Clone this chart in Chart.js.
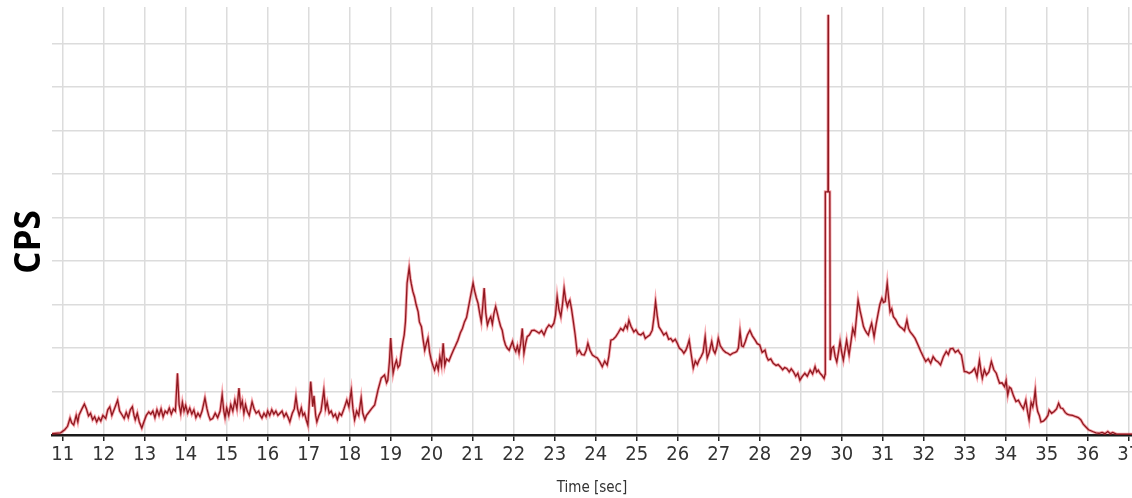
<!DOCTYPE html>
<html>
<head>
<meta charset="utf-8">
<script src="https://cdn.jsdelivr.net/npm/chart.js@4.4.1/dist/chart.umd.min.js"></script>
<style>
  html, body { margin: 0; padding: 0; background: #ffffff; }
  #wrap { position: relative; width: 1132px; height: 498px; }
</style>
</head>
<body>
<div id="wrap"><canvas id="cps" width="1132" height="498"></canvas></div>
<script>
// Count rate trace: time in seconds, counts per second (grid units)
const times = [
  10.74, 10.95, 11.05, 11.12, 11.18, 11.22, 11.27, 11.33, 11.37, 11.40, 11.47, 11.53, 11.58, 11.63, 11.68, 11.73, 11.78, 11.83, 11.88, 11.93, 11.98,
  12.05, 12.10, 12.15, 12.20, 12.27, 12.34, 12.39, 12.45, 12.50, 12.55, 12.60, 12.65, 12.70, 12.74, 12.77, 12.82, 12.87, 12.93, 12.98,
  13.04, 13.10, 13.15, 13.20, 13.25, 13.30, 13.35, 13.40, 13.45, 13.50, 13.55, 13.60, 13.65, 13.70, 13.75, 13.80, 13.84, 13.88, 13.92, 13.96,
  14.00, 14.05, 14.10, 14.15, 14.20, 14.25, 14.30, 14.35, 14.40, 14.47, 14.52, 14.56, 14.60, 14.66, 14.72, 14.78, 14.84, 14.89, 14.93, 14.96,
  15.00, 15.05, 15.10, 15.15, 15.20, 15.25, 15.30, 15.34, 15.38, 15.42, 15.46, 15.50, 15.55, 15.62, 15.67, 15.72, 15.78, 15.82, 15.86, 15.91, 15.96,
  16.00, 16.05, 16.10, 16.15, 16.20, 16.25, 16.30, 16.35, 16.40, 16.45, 16.50, 16.54, 16.60, 16.65, 16.69, 16.73, 16.77, 16.82, 16.86, 16.90, 16.94, 16.98,
  17.05, 17.10, 17.13, 17.17, 17.20, 17.25, 17.30, 17.37, 17.41, 17.45, 17.50, 17.55, 17.60, 17.65, 17.70, 17.75, 17.80, 17.86, 17.93, 17.98,
  18.04, 18.08, 18.12, 18.17, 18.22, 18.28, 18.32, 18.37, 18.41, 18.45, 18.53, 18.61, 18.69, 18.77, 18.85, 18.90, 18.93, 18.97,
  19.00, 19.03, 19.06, 19.10, 19.14, 19.18, 19.22, 19.26, 19.30, 19.33, 19.36, 19.40, 19.45, 19.48, 19.50, 19.54, 19.58, 19.62, 19.67, 19.70,
  19.75, 19.79, 19.83, 19.87, 19.91, 19.95, 19.99,
  20.03, 20.07, 20.12, 20.16, 20.20, 20.24, 20.28, 20.32, 20.36, 20.42, 20.48, 20.53, 20.58, 20.64, 20.70, 20.75, 20.80, 20.85, 20.89, 20.93, 20.97,
  21.01, 21.05, 21.09, 21.13, 21.17, 21.21, 21.24, 21.28, 21.32, 21.36, 21.40, 21.44, 21.48, 21.52, 21.56, 21.60, 21.64, 21.68, 21.72, 21.76,
  21.80, 21.84, 21.89, 21.93, 21.97,
  22.01, 22.05, 22.09, 22.13, 22.17, 22.21, 22.25, 22.29, 22.33, 22.38, 22.44, 22.50, 22.56, 22.62, 22.68, 22.74, 22.80, 22.86, 22.92, 22.98,
  23.02, 23.06, 23.10, 23.15, 23.19, 23.23, 23.27, 23.31, 23.34, 23.37, 23.41, 23.45, 23.50, 23.55, 23.60, 23.66, 23.72, 23.77, 23.81, 23.86, 23.92, 23.98,
  24.04, 24.10, 24.16, 24.22, 24.28, 24.32, 24.37, 24.43, 24.49, 24.55, 24.61, 24.67, 24.73, 24.77, 24.81, 24.86, 24.93, 24.98,
  25.04, 25.10, 25.16, 25.21, 25.26, 25.32, 25.38, 25.42, 25.46, 25.50, 25.54, 25.60, 25.66, 25.72, 25.78, 25.83, 25.88, 25.94, 25.99,
  26.04, 26.10, 26.15, 26.20, 26.24, 26.28, 26.33, 26.38, 26.43, 26.48, 26.52, 26.57, 26.62, 26.67, 26.72, 26.77, 26.83, 26.87, 26.91, 26.95, 26.99,
  27.04, 27.11, 27.17, 27.22, 27.28, 27.34, 27.40, 27.44, 27.48, 27.52, 27.56, 27.60, 27.65, 27.70, 27.76, 27.82, 27.89, 27.94,
  28.00, 28.06, 28.13, 28.17, 28.21, 28.27, 28.33, 28.40, 28.45, 28.50, 28.56, 28.61, 28.66, 28.72, 28.77, 28.82, 28.88, 28.93, 28.98,
  29.04, 29.10, 29.16, 29.23, 29.29, 29.35, 29.39, 29.43, 29.47, 29.51, 29.57, 29.595, 29.60, 29.665, 29.67, 29.675, 29.71, 29.72, 29.76, 29.80,
  29.84, 29.88, 29.92, 29.96,
  30.00, 30.04, 30.08, 30.12, 30.15, 30.18, 30.22, 30.27, 30.32, 30.36, 30.40, 30.45, 30.49, 30.53, 30.57, 30.61, 30.65, 30.69, 30.73, 30.79,
  30.84, 30.89, 30.93, 30.98,
  31.02, 31.06, 31.11, 31.15, 31.18, 31.22, 31.26, 31.32, 31.37, 31.42, 31.48, 31.53, 31.59, 31.63, 31.67, 31.73, 31.79, 31.87, 31.93, 31.99,
  32.05, 32.11, 32.17, 32.23, 32.29, 32.35, 32.41, 32.48, 32.55, 32.60, 32.65, 32.71, 32.77, 32.84, 32.88, 32.92, 32.99,
  33.05, 33.11, 33.17, 33.24, 33.30, 33.36, 33.40, 33.43, 33.48, 33.53, 33.59, 33.65, 33.71, 33.77, 33.81, 33.85, 33.91, 33.97,
  34.01, 34.05, 34.09, 34.13, 34.19, 34.25, 34.31, 34.37, 34.43, 34.49, 34.53, 34.57, 34.62, 34.66, 34.69, 34.72, 34.75, 34.78, 34.82, 34.86,
  34.92, 34.98,
  35.03, 35.06, 35.12, 35.18, 35.24, 35.29, 35.34, 35.39, 35.45, 35.50, 35.55, 35.63, 35.71, 35.77, 35.83, 35.89, 35.95,
  36.02, 36.12, 36.20, 36.28, 36.35, 36.42, 36.49, 36.55, 36.61, 36.70, 36.90, 37.08
];

const counts = [
  0.03, 0.05, 0.12, 0.20, 0.39, 0.28, 0.23, 0.45, 0.30, 0.46, 0.60, 0.71, 0.60, 0.44, 0.50, 0.35, 0.42, 0.30, 0.40, 0.32, 0.45,
  0.38, 0.58, 0.65, 0.45, 0.62, 0.80, 0.55, 0.46, 0.38, 0.52, 0.40, 0.58, 0.65, 0.45, 0.35, 0.50, 0.30, 0.16, 0.30,
  0.45, 0.53, 0.48, 0.55, 0.40, 0.58, 0.45, 0.60, 0.42, 0.55, 0.50, 0.62, 0.48, 0.60, 0.55, 1.42, 0.70, 0.50, 0.75, 0.55,
  0.68, 0.50, 0.62, 0.48, 0.58, 0.40, 0.50, 0.42, 0.55, 0.85, 0.60, 0.45, 0.35, 0.38, 0.50, 0.40, 0.55, 0.92, 0.55, 0.40,
  0.62, 0.45, 0.70, 0.55, 0.80, 0.60, 1.08, 0.65, 0.78, 0.50, 0.70, 0.55, 0.45, 0.76, 0.60, 0.50, 0.55, 0.45, 0.39, 0.50, 0.42,
  0.55, 0.45, 0.58, 0.48, 0.55, 0.45, 0.50, 0.55, 0.42, 0.50, 0.40, 0.30, 0.50, 0.60, 0.88, 0.60, 0.45, 0.62, 0.45, 0.50, 0.35, 0.23,
  1.23, 0.65, 0.90, 0.45, 0.30, 0.45, 0.55, 1.03, 0.60, 0.75, 0.50, 0.55, 0.42, 0.48, 0.35, 0.50, 0.45, 0.60, 0.80, 0.65,
  1.03, 0.60, 0.35, 0.55, 0.45, 0.85, 0.50, 0.35, 0.45, 0.50, 0.60, 0.69, 1.03, 1.31, 1.38, 1.20, 1.26, 1.70,
  2.23, 1.80, 1.42, 1.60, 1.72, 1.55, 1.61, 1.90, 2.15, 2.30, 2.60, 3.49, 3.84, 3.60, 3.49, 3.30, 3.18, 3.00, 2.83, 2.60,
  2.49, 2.20, 1.95, 2.10, 2.23, 1.90, 1.72,
  1.60, 1.49, 1.65, 1.50, 1.80, 1.60, 2.11, 1.60, 1.75, 1.70, 1.84, 1.95, 2.05, 2.18, 2.35, 2.45, 2.60, 2.70, 2.90, 3.10, 3.30,
  3.49, 3.30, 3.15, 3.03, 2.80, 2.60, 2.90, 3.38, 2.80, 2.53, 2.65, 2.72, 2.55, 2.80, 2.95, 2.80, 2.64, 2.50, 2.41, 2.20,
  2.07, 2.00, 1.95, 2.05, 2.15,
  2.00, 1.92, 2.05, 1.88, 2.10, 2.45, 1.88, 2.10, 2.26, 2.30, 2.40, 2.41, 2.38, 2.34, 2.40, 2.30, 2.45, 2.53, 2.48, 2.57,
  2.75, 3.18, 2.90, 2.72, 3.00, 3.37, 3.10, 2.95, 3.05, 3.10, 2.90, 2.64, 2.30, 1.88, 1.95, 1.85, 1.84, 1.95, 2.11, 1.95, 1.84, 1.80,
  1.77, 1.68, 1.57, 1.70, 1.61, 1.80, 2.18, 2.20, 2.26, 2.35, 2.45, 2.40, 2.53, 2.45, 2.64, 2.50, 2.37, 2.42,
  2.32, 2.30, 2.35, 2.22, 2.26, 2.30, 2.41, 2.70, 3.07, 2.75, 2.49, 2.40, 2.30, 2.35, 2.20, 2.22, 2.15, 2.20, 2.11,
  2.00, 1.95, 1.88, 1.95, 2.05, 2.18, 1.85, 1.54, 1.70, 1.62, 1.72, 1.80, 1.90, 2.26, 1.77, 1.90, 2.15, 1.95, 1.88, 2.00, 2.22,
  2.05, 1.95, 1.90, 1.88, 1.84, 1.88, 1.90, 1.92, 2.00, 2.38, 2.05, 2.03, 2.15, 2.30, 2.41, 2.28, 2.18, 2.10,
  2.07, 1.90, 1.95, 1.80, 1.72, 1.75, 1.65, 1.60, 1.62, 1.57, 1.50, 1.55, 1.53, 1.45, 1.52, 1.46, 1.35, 1.42, 1.26,
  1.35, 1.42, 1.35, 1.49, 1.40, 1.57, 1.45, 1.49, 1.42, 1.38, 1.30, 1.40, 5.59, 5.59, 9.66, 5.59, 5.59, 1.72, 2.00, 2.03,
  1.80, 1.68, 1.90, 2.15,
  1.90, 1.72, 1.95, 2.18, 2.00, 1.84, 2.10, 2.45, 2.30, 2.70, 3.10, 2.85, 2.68, 2.50, 2.41, 2.35, 2.30, 2.45, 2.57, 2.26,
  2.55, 2.80, 3.00, 3.14,
  3.05, 3.07, 3.49, 3.10, 2.83, 2.90, 2.72, 2.65, 2.55, 2.49, 2.45, 2.40, 2.64, 2.45, 2.37, 2.30, 2.22, 2.05, 1.92, 1.80,
  1.69, 1.75, 1.65, 1.80, 1.72, 1.68, 1.61, 1.80, 1.92, 1.85, 1.98, 1.99, 1.90, 1.95, 1.88, 1.84, 1.46,
  1.45, 1.42, 1.45, 1.53, 1.34, 1.72, 1.45, 1.30, 1.50, 1.38, 1.45, 1.69, 1.50, 1.42, 1.30, 1.19, 1.20, 1.11,
  1.25, 0.92, 1.10, 1.07, 0.90, 0.77, 0.80, 0.69, 0.60, 0.80, 0.55, 0.35, 0.75, 0.65, 0.80, 1.03, 0.70, 0.54, 0.45, 0.30,
  0.32, 0.38,
  0.45, 0.57, 0.50, 0.54, 0.60, 0.73, 0.62, 0.61, 0.52, 0.48, 0.46, 0.45, 0.42, 0.40, 0.35, 0.25, 0.19,
  0.12, 0.08, 0.05, 0.04, 0.06, 0.03, 0.08, 0.03, 0.06, 0.02, 0.02, 0.02
];

// Axis ticks
const timeTicks = [11, 12, 13, 14, 15, 16, 17, 18, 19, 20, 21, 22, 23, 24, 25, 26, 27, 28, 29, 30, 31, 32, 33, 34, 35, 36, 37];
const countTicks = [0, 1, 2, 3, 4, 5, 6, 7, 8, 9];
const timeRange = [10.74, 37.08];
const countRange = [0, 9.84];

const trace = times.map((t, i) => ({ x: t, y: counts[i] }));

// Rotated, bold "CPS" label beside the plot
const cpsLabel = {
  id: 'cpsLabel',
  afterDraw(chart) {
    const ctx = chart.ctx;
    ctx.save();
    ctx.translate(30, 242);
    ctx.rotate(-Math.PI / 2);
    ctx.fillStyle = '#000000';
    ctx.font = 'bold 35px "Open Sans", sans-serif';
    ctx.textAlign = 'center';
    ctx.textBaseline = 'middle';
    ctx.fillText('CPS', 0, 0);
    ctx.restore();
  }
};

const narrow = '"DejaVu Sans Condensed", "Liberation Sans", sans-serif';
const gridGrey = '#dcdcdc';

new Chart(document.getElementById('cps'), {
  type: 'line',
  data: {
    datasets: [
      {
        data: trace,
        borderColor: '#8f1820',
        borderWidth: 1.3,
        pointRadius: 0,
        tension: 0,
        fill: false,
        order: 1
      },
      {
        data: trace,
        borderColor: 'rgba(232, 30, 45, 0.4)',
        borderWidth: 3,
        pointRadius: 0,
        tension: 0,
        fill: false,
        order: 2
      }
    ]
  },
  options: {
    responsive: false,
    animation: false,
    devicePixelRatio: 1,
    layout: { padding: { top: 7, right: 0, bottom: 0, left: 0 } },
    plugins: {
      legend: { display: false },
      tooltip: { enabled: false }
    },
    scales: {
      x: {
        type: 'linear',
        min: timeRange[0],
        max: timeRange[1],
        afterBuildTicks(scale) { scale.ticks = timeTicks.map(v => ({ value: v })); },
        afterFit(scale) { scale.height = 63; scale.paddingLeft = 0; scale.paddingRight = 0; },
        grid: {
          color: gridGrey,
          lineWidth: 1.5,
          drawTicks: true,
          tickLength: 6,
          tickColor: '#222222',
          tickWidth: 1.5
        },
        border: { display: true, color: '#1a1a1a', width: 2.5 },
        ticks: {
          color: '#333333',
          font: { family: narrow, size: 20 },
          padding: 2,
          maxRotation: 0,
          autoSkip: false,
          callback: v => String(v)
        },
        title: {
          display: true,
          text: 'Time [sec]',
          color: '#333333',
          font: { family: narrow, size: 15 },
          padding: { top: 0, bottom: 1 }
        }
      },
      y: {
        type: 'linear',
        min: countRange[0],
        max: countRange[1],
        afterBuildTicks(scale) { scale.ticks = countTicks.map(v => ({ value: v })); },
        afterFit(scale) { scale.width = 52; scale.paddingTop = 0; scale.paddingBottom = 0; },
        grid: {
          color: gridGrey,
          lineWidth: 1.5,
          drawTicks: false
        },
        border: { display: false },
        ticks: { display: false }
      }
    }
  },
  plugins: [cpsLabel]
});
</script>
</body>
</html>
